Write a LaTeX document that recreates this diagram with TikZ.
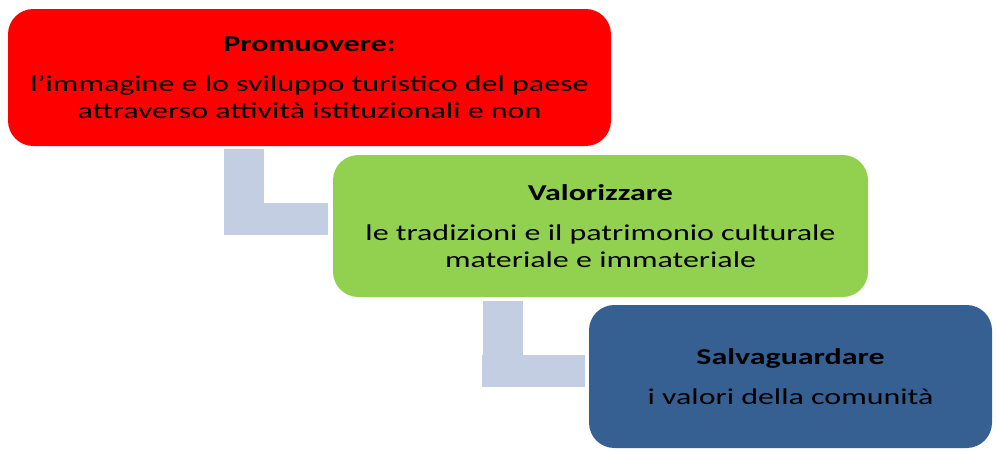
\documentclass[tikz,border=0pt]{standalone}
\usepackage{fontspec}
\setmainfont{Carlito}[FakeStretch=1.41]
\definecolor{boxred}{HTML}{FF0000}
\definecolor{boxgreen}{HTML}{92D050}
\definecolor{boxblue}{HTML}{376092}
\definecolor{conncol}{HTML}{C3CEE2}
\begin{document}
\begin{tikzpicture}[x=0.75pt,y=-0.75pt,
  stagebox/.style={rounded corners=19pt, inner sep=0pt, align=center,
    font=\fontsize{17pt}{20pt}\selectfont, text=black},
  connv/.style={draw=conncol, line width=30pt},
  connh/.style={draw=conncol, line width=24pt}]
\useasboundingbox (0,0) rectangle (996,450);
% boxes
\node[stagebox, fill=boxred, minimum width=603*0.75pt, minimum height=137*0.75pt]
  (r) at (309.5,77.5) {\textbf{Promuovere:}\\[10pt]l’immagine e lo sviluppo turistico del paese\\attraverso attività istituzionali e non};
\node[stagebox, fill=boxgreen, minimum width=535*0.75pt, minimum height=142*0.75pt]
  (g) at (600.5,226) {\textbf{Valorizzare}\\[10pt]le tradizioni e il patrimonio culturale\\materiale e immateriale};
\node[stagebox, fill=boxblue, minimum width=403*0.75pt, minimum height=143*0.75pt]
  (b) at (790.5,376.5) {\textbf{Salvaguardare}\\[10pt]i valori della comunità};
% connectors
\coordinate (c1a) at (244,149);
\coordinate (c1b) at (244,235);
\coordinate (c1c) at (224,219);
\coordinate (c1d) at (328,219);
\draw[connv] (c1a) -- (c1b);
\draw[connh] (c1c) -- (c1d);
\coordinate (c2a) at (502.5,301);
\coordinate (c2b) at (502.5,387);
\coordinate (c2c) at (482,371);
\coordinate (c2d) at (585,371);
\draw[connv] (c2a) -- (c2b);
\draw[connh] (c2c) -- (c2d);
\end{tikzpicture}
\end{document}
